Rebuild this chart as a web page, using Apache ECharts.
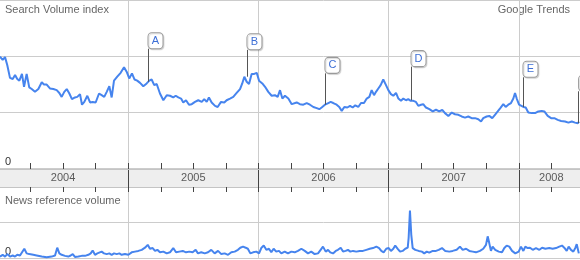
<!DOCTYPE html>
<html>
<head>
<meta charset="utf-8">
<script src="https://cdn.jsdelivr.net/npm/echarts@6/dist/echarts.min.js"></script>
<style>
html,body{margin:0;padding:0;background:#fff;overflow:hidden;width:580px;height:260px;position:relative;}
#chart{position:absolute;left:-2px;top:0;width:651px;height:260px;}
</style>
</head>
<body>
<div id="chart"></div>
<script>
// ---- data ----
var searchYears = [2004.015,2004.036,2004.054,2004.071,2004.092,2004.113,2004.131,2004.148,2004.164,2004.184,
2004.200,2004.220,2004.240,2004.259,2004.284,2004.310,2004.336,2004.353,2004.374,2004.399,
2004.425,2004.451,2004.471,2004.489,2004.509,2004.528,2004.548,2004.568,2004.591,2004.609,
2004.630,2004.645,2004.663,2004.686,2004.707,2004.727,2004.750,2004.776,2004.796,2004.816,
2004.835,2004.855,2004.873,2004.891,2004.916,2004.942,2004.968,2004.988,2005.008,2005.029,
2005.049,2005.069,2005.091,2005.116,2005.142,2005.162,2005.180,2005.200,2005.219,2005.244,
2005.270,2005.296,2005.321,2005.346,2005.365,2005.385,2005.406,2005.423,2005.444,2005.467,
2005.488,2005.513,2005.538,2005.565,2005.584,2005.603,2005.620,2005.641,2005.667,2005.687,
2005.713,2005.738,2005.756,2005.782,2005.807,2005.833,2005.859,2005.876,2005.892,2005.910,
2005.928,2005.948,2005.968,2005.987,2006.005,2006.030,2006.051,2006.076,2006.102,2006.127,
2006.148,2006.166,2006.184,2006.204,2006.230,2006.256,2006.294,2006.319,2006.345,2006.371,
2006.396,2006.422,2006.448,2006.468,2006.486,2006.511,2006.537,2006.555,2006.575,2006.601,
2006.621,2006.640,2006.660,2006.683,2006.704,2006.724,2006.744,2006.767,2006.788,2006.811,
2006.832,2006.852,2006.870,2006.888,2006.903,2006.921,2006.939,2006.959,2006.980,2006.998,
2007.018,2007.036,2007.057,2007.075,2007.095,2007.113,2007.134,2007.151,2007.170,2007.190,
2007.210,2007.228,2007.249,2007.266,2007.287,2007.313,2007.339,2007.364,2007.389,2007.412,
2007.433,2007.459,2007.485,2007.510,2007.536,2007.561,2007.587,2007.612,2007.638,2007.664,
2007.689,2007.710,2007.727,2007.753,2007.773,2007.796,2007.817,2007.838,2007.858,2007.881,
2007.899,2007.919,2007.940,2007.958,2007.971,2007.984,2008.002,2008.017,2008.035,2008.053,
2008.073,2008.099,2008.125,2008.150,2008.176,2008.196,2008.222,2008.248,2008.273,2008.299,
2008.325,2008.355,2008.381,2008.407,2008.432,2008.453,2008.463];

var searchValues = [1.99,1.93,1.98,1.84,1.61,1.59,1.66,1.59,1.56,1.68,
1.45,1.68,1.44,1.41,1.36,1.41,1.53,1.49,1.49,1.42,
1.41,1.39,1.34,1.27,1.36,1.41,1.33,1.23,1.26,1.27,
1.32,1.13,1.18,1.29,1.17,1.18,1.17,1.33,1.30,1.27,
1.36,1.46,1.26,1.56,1.63,1.70,1.80,1.72,1.60,1.69,
1.58,1.56,1.52,1.46,1.51,1.56,1.58,1.48,1.50,1.33,
1.21,1.30,1.29,1.26,1.29,1.26,1.24,1.17,1.21,1.13,
1.14,1.18,1.21,1.18,1.23,1.18,1.26,1.17,1.11,1.09,
1.18,1.17,1.21,1.24,1.27,1.34,1.41,1.51,1.63,1.54,
1.50,1.68,1.68,1.70,1.56,1.51,1.45,1.36,1.29,1.30,
1.27,1.39,1.24,1.29,1.24,1.14,1.17,1.14,1.13,1.16,
1.13,1.09,1.07,1.05,1.08,1.13,1.16,1.18,1.16,1.13,
1.09,1.02,1.09,1.08,1.11,1.08,1.12,1.09,1.16,1.16,
1.24,1.27,1.39,1.30,1.36,1.42,1.48,1.58,1.48,1.39,
1.32,1.29,1.34,1.24,1.20,1.24,1.21,1.23,1.20,1.20,
1.18,1.11,1.13,1.14,1.08,1.05,1.01,1.04,1.01,1.04,
0.98,0.93,0.99,0.96,0.95,0.92,0.90,0.92,0.89,0.89,
0.87,0.83,0.89,0.92,0.93,0.89,0.95,1.01,1.07,1.14,
1.09,1.13,1.16,1.24,1.34,1.24,1.13,1.11,1.09,1.08,
0.99,0.98,0.98,1.01,1.02,1.01,0.93,0.89,0.89,0.86,
0.84,0.83,0.81,0.83,0.81,0.80,0.83];

var newsYears = [2004.015,2004.036,2004.054,2004.071,2004.092,2004.113,2004.131,2004.148,2004.169,2004.184,
2004.202,2004.220,2004.240,2004.271,2004.297,2004.336,2004.374,2004.412,2004.438,2004.455,
2004.471,2004.489,2004.515,2004.540,2004.558,2004.574,2004.591,2004.617,2004.643,2004.668,
2004.694,2004.712,2004.727,2004.745,2004.763,2004.778,2004.796,2004.814,2004.835,2004.855,
2004.873,2004.891,2004.912,2004.932,2004.950,2004.975,2005.001,2005.027,2005.052,2005.078,
2005.104,2005.129,2005.150,2005.167,2005.188,2005.206,2005.224,2005.244,2005.270,2005.296,
2005.321,2005.346,2005.367,2005.393,2005.419,2005.444,2005.469,2005.495,2005.518,2005.536,
2005.561,2005.588,2005.613,2005.638,2005.664,2005.690,2005.715,2005.741,2005.767,2005.792,
2005.818,2005.843,2005.861,2005.882,2005.902,2005.919,2005.938,2005.959,2005.984,2006.005,
2006.022,2006.041,2006.061,2006.081,2006.099,2006.117,2006.137,2006.158,2006.176,2006.202,
2006.227,2006.253,2006.279,2006.304,2006.330,2006.356,2006.381,2006.406,2006.432,2006.458,
2006.478,2006.496,2006.517,2006.535,2006.552,2006.573,2006.594,2006.611,2006.632,2006.650,
2006.670,2006.688,2006.706,2006.727,2006.752,2006.778,2006.803,2006.829,2006.855,2006.880,
2006.906,2006.927,2006.944,2006.962,2006.982,2007.001,2007.018,2007.036,2007.051,2007.070,
2007.088,2007.108,2007.128,2007.147,2007.154,2007.164,2007.174,2007.185,2007.205,2007.231,
2007.256,2007.274,2007.293,2007.312,2007.339,2007.364,2007.385,2007.410,2007.435,2007.466,
2007.492,2007.523,2007.548,2007.569,2007.595,2007.620,2007.646,2007.671,2007.702,2007.727,
2007.748,2007.761,2007.773,2007.786,2007.799,2007.819,2007.846,2007.871,2007.889,2007.907,
2007.927,2007.948,2007.973,2007.999,2008.017,2008.035,2008.050,2008.068,2008.086,2008.107,
2008.132,2008.158,2008.179,2008.204,2008.234,2008.260,2008.286,2008.311,2008.332,2008.349,
2008.368,2008.383,2008.401,2008.419,2008.435,2008.445,2008.461];

var newsValues = [0.04,0.09,0.04,0.11,0.04,0.07,0.04,0.09,0.07,0.11,
0.26,0.13,0.11,0.09,0.07,0.04,0.02,0.04,0.07,0.29,
0.13,0.09,0.06,0.04,0.07,0.11,0.03,0.04,0.06,0.06,
0.09,0.13,0.21,0.09,0.13,0.09,0.18,0.13,0.11,0.13,
0.09,0.13,0.11,0.13,0.09,0.11,0.09,0.16,0.18,0.20,
0.23,0.29,0.37,0.26,0.28,0.20,0.23,0.16,0.18,0.13,
0.16,0.28,0.16,0.18,0.20,0.16,0.18,0.16,0.23,0.13,
0.16,0.13,0.16,0.23,0.13,0.20,0.11,0.13,0.09,0.16,
0.18,0.23,0.29,0.32,0.29,0.26,0.13,0.16,0.18,0.13,
0.28,0.35,0.23,0.26,0.16,0.26,0.18,0.20,0.13,0.18,
0.13,0.18,0.16,0.20,0.26,0.20,0.13,0.18,0.11,0.13,
0.23,0.32,0.18,0.23,0.16,0.13,0.20,0.23,0.29,0.18,
0.20,0.23,0.18,0.20,0.18,0.20,0.20,0.23,0.26,0.28,
0.32,0.28,0.20,0.16,0.26,0.28,0.20,0.26,0.35,0.26,
0.18,0.20,0.26,0.29,0.57,1.34,0.66,0.28,0.23,0.20,
0.18,0.13,0.18,0.15,0.20,0.20,0.23,0.28,0.20,0.18,
0.20,0.23,0.32,0.23,0.26,0.20,0.18,0.16,0.20,0.26,
0.37,0.61,0.42,0.20,0.32,0.23,0.18,0.16,0.28,0.35,
0.32,0.20,0.13,0.18,0.32,0.20,0.32,0.28,0.29,0.23,
0.28,0.23,0.29,0.26,0.28,0.26,0.28,0.32,0.35,0.29,
0.20,0.32,0.23,0.18,0.29,0.39,0.13];

var yearLabels = ['2004','2005','2006','2007','2008'];
var yearLabelPos = [2004.5, 2005.5, 2006.5, 2007.5, 2008.25];

var flagLetters = ['A','B','C','D','E','F'];
var flagYears   = [2005.152, 2005.912, 2006.511, 2007.172, 2008.032, 2008.459];
var flagBase    = [1.54, 1.63, 1.13, 1.21, 1.09, 0.80];
var flagTop     = [2.13, 2.11, 1.69, 1.81, 1.62, 1.37];

// ---- build ----
function zip(xs, ys){
  var out = [];
  var n = Math.min(xs.length, ys.length);
  for (var i = 0; i < n; i++) out.push([xs[i], ys[i]]);
  return out;
}
var FONT = 'Arial, "Liberation Sans", sans-serif';
var LINE = '#4684ee';
var GRIDC = '#cccccc';
var TICKC = '#444444';

var flagLines = [], flagBoxes = [];
for (var i = 0; i < flagLetters.length; i++) {
  flagLines.push([{coord:[flagYears[i], flagBase[i]]}, {coord:[flagYears[i], flagTop[i]]}]);
  flagBoxes.push({name: flagLetters[i], coord:[flagYears[i], flagTop[i]]});
}
var yearData = [];
for (var j = 0; j < yearLabels.length; j++) {
  yearData.push({name: yearLabels[j], value: [yearLabelPos[j], 0.5]});
}

var xBase = {type:'value', min:2004, max:2009, interval:1};

function zeroLabel(v){ return v === 0 ? '0' : ''; }

var option = {
  animation: false,
  grid: [
    {left:0, right:0, top:-1, height:169},
    {left:0, right:0, top:169, height:18, show:true, backgroundColor:'#eeeeee', borderWidth:0},
    {left:0, right:0, top:187, height:71}
  ],
  xAxis: [
    Object.assign({}, xBase, {gridIndex:0, axisLine:{show:false}, axisTick:{show:false}, axisLabel:{show:false},
      splitLine:{show:true, lineStyle:{color:GRIDC, width:1}}}),
    Object.assign({}, xBase, {gridIndex:1, position:'bottom',
      axisLine:{show:true, lineStyle:{color:'#c4c4c4', width:1}},
      axisTick:{show:true, inside:false, length:5, lineStyle:{color:TICKC, width:1}},
      minorTick:{show:true, splitNumber:4, length:5, lineStyle:{color:TICKC, width:1}},
      axisLabel:{show:false},
      splitLine:{show:true, lineStyle:{color:TICKC, width:1}}}),
    Object.assign({}, xBase, {gridIndex:1, position:'top',
      axisLine:{show:true, lineStyle:{color:'#c4c4c4', width:1}},
      axisTick:{show:true, inside:false, length:6, lineStyle:{color:TICKC, width:1}},
      minorTick:{show:true, splitNumber:4, length:6, lineStyle:{color:TICKC, width:1}},
      axisLabel:{show:false}, splitLine:{show:false}}),
    Object.assign({}, xBase, {gridIndex:2, axisLine:{show:false}, axisTick:{show:false}, axisLabel:{show:false},
      splitLine:{show:true, lineStyle:{color:GRIDC, width:1}}})
  ],
  yAxis: [
    {type:'value', gridIndex:0, min:0, max:3, interval:1,
      axisLine:{show:false}, axisTick:{show:false},
      splitLine:{show:true, lineStyle:{color:GRIDC, width:1}},
      axisLabel:{show:true, inside:true, margin:7, formatter:zeroLabel, color:'#333', fontSize:11,
        fontFamily:FONT, verticalAlign:'bottom', padding:[0,0,1,0]}},
    {type:'value', gridIndex:1, min:0, max:1, show:false},
    {type:'value', gridIndex:2, min:0, max:2, interval:1,
      axisLine:{show:false}, axisTick:{show:false},
      splitLine:{show:true, lineStyle:{color:GRIDC, width:1}},
      axisLabel:{show:true, inside:true, margin:7, formatter:zeroLabel, color:'#333', fontSize:11,
        fontFamily:FONT, verticalAlign:'bottom', padding:[0,0,1,0]}}
  ],
  series: [
    {type:'line', xAxisIndex:0, yAxisIndex:0, data: zip(searchYears, searchValues),
      showSymbol:false, symbol:'none', lineStyle:{color:LINE, width:2}, silent:true, z:3,
      markLine:{silent:true, symbol:['none','none'], label:{show:false},
        lineStyle:{color:'#555', width:1, type:'solid'}, emphasis:{disabled:true}, data: flagLines},
      markPoint:{silent:true, symbol:'roundRect', symbolSize:[15,16], symbolOffset:['50%','-50%'],
        itemStyle:{color:'#ffffff', borderColor:'#9a9a9a', borderWidth:1,
          shadowColor:'rgba(0,0,0,0.15)', shadowBlur:1, shadowOffsetX:1, shadowOffsetY:1},
        label:{show:true, position:'inside', formatter:'{b}', color:'#3d6fd6', fontSize:11, fontFamily:FONT},
        data: flagBoxes}
    },
    {type:'scatter', xAxisIndex:1, yAxisIndex:1, data: yearData, symbolSize:1,
      itemStyle:{color:'rgba(0,0,0,0)'}, silent:true, z:5,
      label:{show:true, position:'inside', formatter:'{b}', color:'#333', fontSize:11, fontFamily:FONT}},
    {type:'line', xAxisIndex:3, yAxisIndex:2, data: zip(newsYears, newsValues),
      showSymbol:false, symbol:'none', lineStyle:{color:LINE, width:2}, silent:true, z:3}
  ],
  graphic: [
    {type:'text', left:7, top:4, style:{text:'Search Volume index', fill:'#666', font:'11px ' + FONT}},
    {type:'text', right:79, top:4, style:{text:'Google Trends', fill:'#666', font:'11px ' + FONT}},
    {type:'text', left:7, top:195, style:{text:'News reference volume', fill:'#666', font:'11px ' + FONT}}
  ]
};

var chart = echarts.init(document.getElementById('chart'), null, {renderer:'canvas'});
chart.setOption(option);
</script>
</body>
</html>
